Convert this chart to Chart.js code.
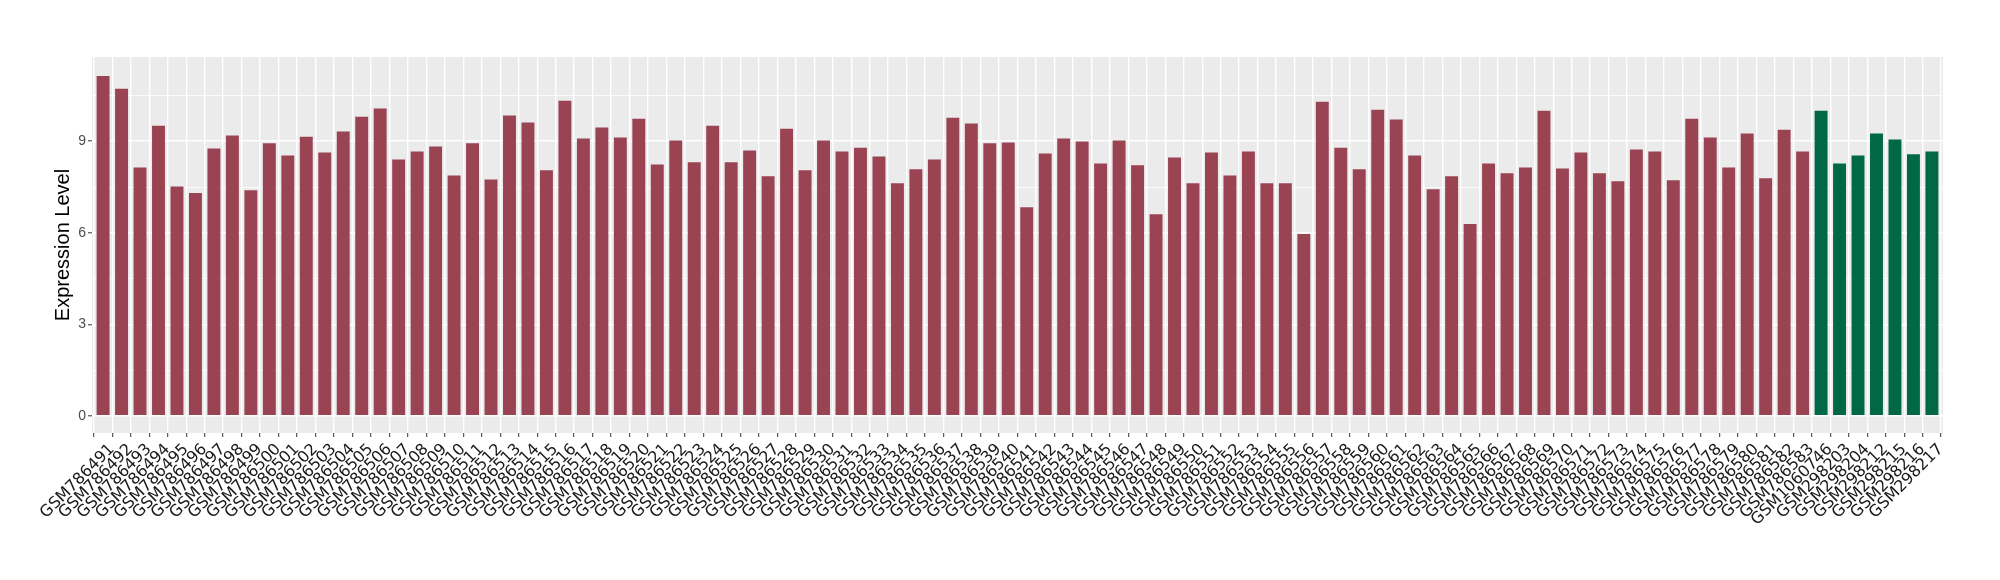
<!DOCTYPE html>
<html>
<head>
<meta charset="utf-8">
<script src="https://cdn.jsdelivr.net/npm/chart.js@4"></script>
<style>
  html, body { margin: 0; padding: 0; background: #ffffff; }
  #wrap { width: 2000px; height: 580px; }
</style>
</head>
<body>
<div id="wrap"><canvas id="c" width="2000" height="580"></canvas></div>
<script>
const categories = [
  "GSM786491","GSM786492","GSM786493","GSM786494","GSM786495","GSM786496","GSM786497","GSM786498","GSM786499","GSM786500",
  "GSM786501","GSM786502","GSM786503","GSM786504","GSM786505","GSM786506","GSM786507","GSM786508","GSM786509","GSM786510",
  "GSM786511","GSM786512","GSM786513","GSM786514","GSM786515","GSM786516","GSM786517","GSM786518","GSM786519","GSM786520",
  "GSM786521","GSM786522","GSM786523","GSM786524","GSM786525","GSM786526","GSM786527","GSM786528","GSM786529","GSM786530",
  "GSM786531","GSM786532","GSM786533","GSM786534","GSM786535","GSM786536","GSM786537","GSM786538","GSM786539","GSM786540",
  "GSM786541","GSM786542","GSM786543","GSM786544","GSM786545","GSM786546","GSM786547","GSM786548","GSM786549","GSM786550",
  "GSM786551","GSM786552","GSM786553","GSM786554","GSM786555","GSM786556","GSM786557","GSM786558","GSM786559","GSM786560",
  "GSM786561","GSM786562","GSM786563","GSM786564","GSM786565","GSM786566","GSM786567","GSM786568","GSM786569","GSM786570",
  "GSM786571","GSM786572","GSM786573","GSM786574","GSM786575","GSM786576","GSM786577","GSM786578","GSM786579","GSM786580",
  "GSM786581","GSM786582","GSM786583",
  "GSM1060746","GSM298203","GSM298204","GSM298212","GSM298215","GSM298216","GSM298217"
];

const values = [
  11.14,10.72,8.14,9.51,7.52,7.30,8.76,9.19,7.39,8.93,
  8.53,9.15,8.63,9.32,9.80,10.07,8.40,8.66,8.83,7.88,
  8.93,7.75,9.84,9.61,8.05,10.33,9.09,9.45,9.12,9.74,
  8.24,9.02,8.31,9.51,8.31,8.70,7.85,9.41,8.05,9.02,
  8.66,8.79,8.50,7.62,8.08,8.40,9.77,9.58,8.93,8.96,
  6.84,8.60,9.09,8.99,8.27,9.02,8.21,6.61,8.47,7.62,
  8.63,7.88,8.66,7.62,7.62,5.96,10.29,8.79,8.08,10.03,
  9.71,8.53,7.43,7.85,6.29,8.27,7.95,8.14,10.00,8.11,
  8.63,7.95,7.69,8.73,8.66,7.72,9.74,9.12,8.14,9.25,
  7.79,9.38,8.66,
  10.00,8.27,8.53,9.25,9.06,8.57,8.66
];

// group of each sample: "A" (red series) or "B" (green series)
const groups = categories.map((c, i) => (i < 93 ? "A" : "B"));
const groupColors = { A: "#9A4352", B: "#006846" };

const yTickValues = [0, 1.5, 3, 4.5, 6, 7.5, 9, 10.5];
const yLabeled = [0, 3, 6, 9];

const points = values.map((v, i) => ({ x: i + 1, y: v }));

const panelBg = {
  id: 'panelBg',
  beforeDraw(chart) {
    const { ctx, chartArea: a } = chart;
    ctx.save();
    ctx.fillStyle = '#EBEBEB';
    ctx.fillRect(a.left, a.top, a.right - a.left, a.bottom - a.top);
    ctx.restore();
  }
};

new Chart(document.getElementById('c'), {
  type: 'bar',
  data: {
    datasets: [{
      data: points,
      backgroundColor: groups.map(g => groupColors[g]),
      borderWidth: 0,
      categoryPercentage: 1.0,
      barPercentage: 0.7
    }]
  },
  plugins: [panelBg],
  options: {
    responsive: false,
    animation: false,
    devicePixelRatio: 1,
    layout: { padding: { top: 57, right: 57, left: 0, bottom: 0 } },
    plugins: { legend: { display: false }, tooltip: { enabled: false } },
    scales: {
      x: {
        type: 'linear',
        min: 0.4,
        max: 100.6,
        offset: false,
        afterBuildTicks: (s) => { s.ticks = categories.map((_, i) => ({ value: i + 1 })); },
        afterFit: (s) => { s.height = 147; },
        border: { display: false },
        grid: {
          color: '#FFFFFF',
          lineWidth: 1.4,
          drawTicks: true,
          tickLength: 4,
          tickColor: '#333333',
          tickWidth: 1
        },
        ticks: {
          autoSkip: false,
          maxRotation: 45,
          minRotation: 45,
          padding: 3,
          labelOffset: 9,
          color: '#1A1A1A',
          font: { family: 'DejaVu Sans', size: 16 },
          callback: (v) => categories[Math.round(v) - 1]
        }
      },
      y: {
        min: -0.56,
        max: 11.76,
        afterBuildTicks: (s) => { s.ticks = yTickValues.map(v => ({ value: v })); },
        afterFit: (s) => { s.width = 92; },
        border: { display: false },
        grid: {
          color: '#FFFFFF',
          lineWidth: (c) => (c.tick && yLabeled.includes(c.tick.value) ? 1.6 : 0.8),
          drawTicks: true,
          tickLength: 4,
          tickColor: (c) => (c.tick && yLabeled.includes(c.tick.value) ? '#333333' : 'rgba(0,0,0,0)'),
          tickWidth: 1
        },
        ticks: {
          padding: 2,
          color: '#4D4D4D',
          font: { family: 'Liberation Sans', size: 14 },
          callback: (v) => (yLabeled.includes(v) ? String(v) : '')
        },
        title: {
          display: true,
          text: 'Expression Level',
          color: '#000000',
          font: { family: 'Liberation Sans', size: 20 },
          padding: { top: 51, bottom: 0 }
        }
      }
    }
  }
});
</script>
</body>
</html>
